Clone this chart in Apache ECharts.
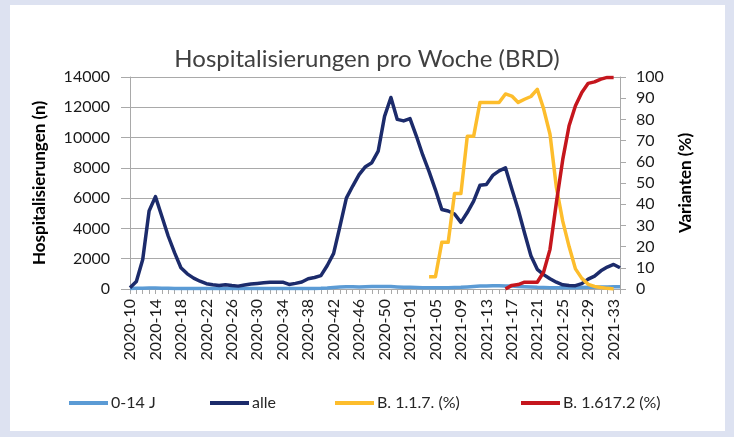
<!DOCTYPE html>
<html>
<head>
<meta charset="utf-8">
<title>Hospitalisierungen pro Woche (BRD)</title>
<script src="https://cdn.jsdelivr.net/npm/echarts@6/dist/echarts.min.js"></script>
<style>
  html, body { margin: 0; padding: 0; background: #dde2f1; }
  #chart { width: 734px; height: 437px; }
</style>
</head>
<body>
<div id="chart"></div>
<script>
  // Kalenderwochen 2020-10 ... 2021-34 (2020 hat 53 Wochen)
  const weeks = [];
  for (let w = 10; w <= 53; w++) weeks.push('2020-' + String(w).padStart(2, '0'));
  for (let w = 1; w <= 34; w++) weeks.push('2021-' + String(w).padStart(2, '0'));

  const kids = [40, 50, 50, 60, 60, 50, 50, 40, 40, 40,
    30, 30, 30, 30, 30, 30, 30, 30, 30, 30,
    30, 30, 30, 30, 30, 30, 30, 30, 30, 40,
    50, 70, 100, 130, 150, 150, 140, 150, 160, 170,
    170, 160, 140, 120, 110, 100, 90, 80, 80, 80,
    90, 100, 110, 140, 170, 190, 200, 210, 210, 200,
    190, 170, 150, 130, 110, 100, 90, 80, 80, 80,
    90, 100, 110, 120, 130, 140, 150, 150];

  const alle = [80, 500, 1950, 5150, 6100, 4800, 3500, 2400, 1400, 1000,
    720, 515, 350, 280, 230, 280, 230, 190, 270, 330,
    370, 410, 440, 450, 450, 300, 370, 460, 675, 760,
    880, 1550, 2350, 4150, 6000, 6800, 7550, 8080, 8340, 9100,
    11400, 12650, 11200, 11100, 11250, 10100, 8850, 7750, 6550, 5250,
    5150, 4950, 4400, 5050, 5800, 6850, 6900, 7500, 7800, 8000,
    6600, 5250, 3700, 2200, 1300, 950, 680, 450, 280, 230,
    220, 350, 650, 850, 1200, 1450, 1620, 1400];

  // Anteile in %, erst ab 2021-04 bzw. 2021-16 gemeldet
  const alpha = [null, null, null, null, null, null, null, null, null, null,
    null, null, null, null, null, null, null, null, null, null,
    null, null, null, null, null, null, null, null, null, null,
    null, null, null, null, null, null, null, null, null, null,
    null, null, null, null, null, null, null, 5.8, 5.8, 22,
    22, 45, 45, 72, 72, 88, 88, 88, 88, 92,
    91, 88, 89.5, 90.8, 94.2, 85, 73, 48, 32, 20,
    9.5, 5, 2.2, 1.2, 0.7, 0.3, 0, null];

  const delta = [null, null, null, null, null, null, null, null, null, null,
    null, null, null, null, null, null, null, null, null, null,
    null, null, null, null, null, null, null, null, null, null,
    null, null, null, null, null, null, null, null, null, null,
    null, null, null, null, null, null, null, null, null, null,
    null, null, null, null, null, null, null, null, null, 0,
    1.7, 2.1, 3.2, 3.2, 3.2, 8, 18.7, 40.7, 61, 77,
    86.4, 92.7, 97, 97.7, 99, 99.8, 99.8, null];

  const seriesNames = ['0-14 J', 'alle', 'B. 1.1.7. (%)', 'B. 1.617.2 (%)'];
  const seriesColors = ['#5b9bd5', '#1c2b6b', '#fdbd2c', '#c5161d'];
  const legendLeft = [64, 205, 330, 516];

  const font = 'Lato, "Noto Sans", sans-serif';
  const gridColor = '#a9a9a9';

  const myChart = echarts.init(document.getElementById('chart'));

  function lineSeries(idx, data, yAxisIndex) {
    return {
      name: seriesNames[idx],
      type: 'line',
      data: data,
      yAxisIndex: yAxisIndex,
      symbol: 'none',
      connectNulls: false,
      color: seriesColors[idx],
      lineStyle: { width: 3.5, color: seriesColors[idx], join: 'round' },
      animation: false
    };
  }

  // eine Legende pro Serie, damit die Abstände wie im Original sitzen
  const legends = seriesNames.map((name, i) => ({
    data: [name],
    left: legendLeft[i],
    top: 390,
    icon: 'rect',
    itemWidth: 39,
    itemHeight: 4,
    itemGap: 3,
    textStyle: { fontFamily: font, fontSize: 16, color: '#262626', padding: [0, 0, 0, -2] }
  }));

  const option = {
    backgroundColor: '#dde2f1',
    animation: false,
    graphic: [{
      type: 'rect',
      left: 10, top: 5,
      shape: { width: 715, height: 426 },
      style: { fill: '#ffffff' },
      z: -10
    }],
    title: {
      text: 'Hospitalisierungen pro Woche (BRD)',
      left: 'center',
      top: 42,
      textStyle: { fontFamily: font, fontSize: 24, fontWeight: 'normal', color: '#404040' }
    },
    legend: legends,
    grid: { left: 130, right: 114, top: 77, bottom: 148 },
    xAxis: {
      type: 'category',
      data: weeks,
      boundaryGap: false,
      axisLine: { lineStyle: { color: gridColor } },
      axisTick: { interval: 0, length: 5, lineStyle: { color: gridColor } },
      axisLabel: { interval: 3, rotate: 90, margin: 10, fontFamily: font, fontSize: 16, color: '#1a1a1a' },
      splitLine: { show: false }
    },
    yAxis: [{
      type: 'value',
      min: 0, max: 14000, interval: 2000,
      name: 'Hospitalisierungen (n)',
      nameLocation: 'middle',
      nameGap: 82,
      nameTextStyle: { fontFamily: font, fontSize: 17, fontWeight: 'bold', color: '#000' },
      axisLine: { show: true, lineStyle: { color: gridColor } },
      axisTick: { show: true, length: 9, lineStyle: { color: gridColor } },
      axisLabel: { margin: 20, fontFamily: font, fontSize: 16, color: '#1a1a1a', formatter: v => String(v) },
      splitLine: { lineStyle: { color: gridColor, width: 1 } }
    }, {
      type: 'value',
      position: 'right',
      min: 0, max: 100, interval: 10,
      name: 'Varianten (%)',
      nameLocation: 'middle',
      nameGap: 57,
      nameTextStyle: { fontFamily: font, fontSize: 17, fontWeight: 'bold', color: '#000' },
      axisLine: { show: true, lineStyle: { color: gridColor } },
      axisTick: { show: true, length: 6, lineStyle: { color: gridColor } },
      axisLabel: { margin: 16, fontFamily: font, fontSize: 16, color: '#1a1a1a' },
      splitLine: { show: false }
    }],
    series: [
      lineSeries(0, kids, 0),
      lineSeries(1, alle, 0),
      lineSeries(2, alpha, 1),
      lineSeries(3, delta, 1)
    ]
  };

  myChart.setOption(option);
</script>
</body>
</html>
